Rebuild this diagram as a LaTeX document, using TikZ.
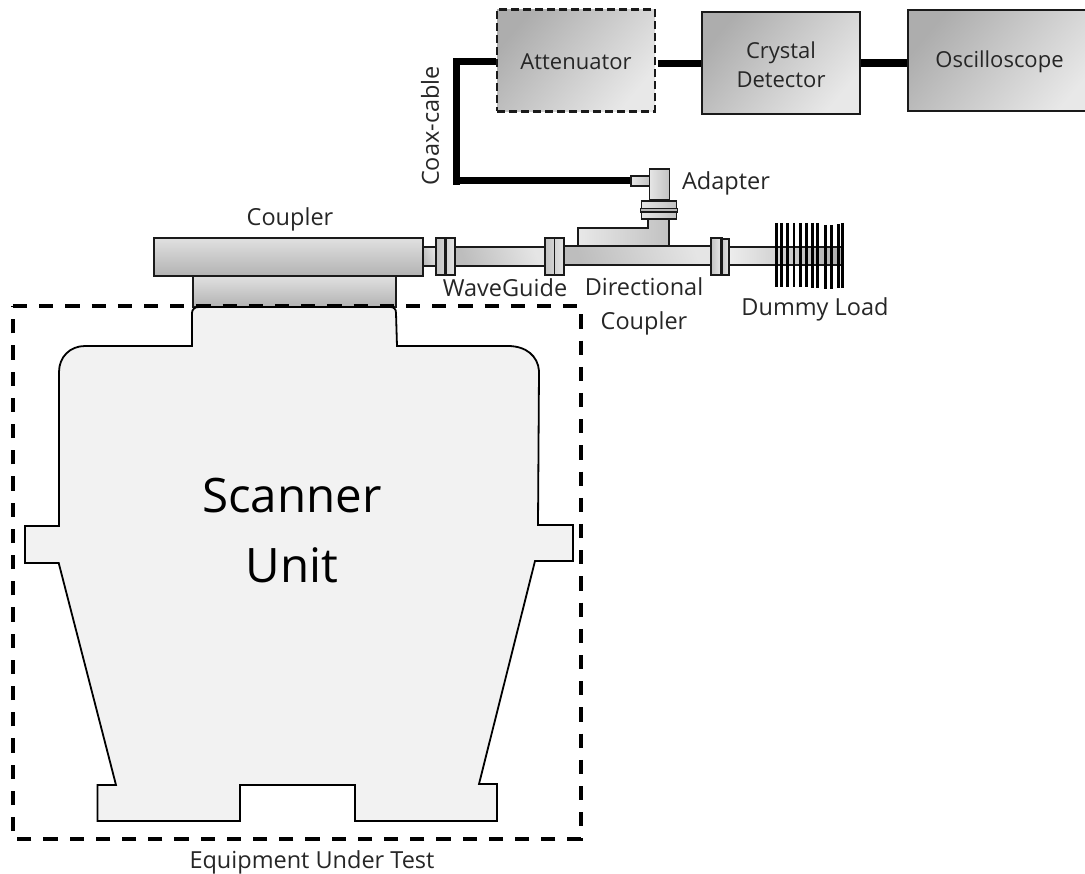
\documentclass[tikz,border=0pt]{standalone}
\usepackage{fontspec}
\setmainfont{Open Sans}
\usetikzlibrary{shadings}
\definecolor{ink}{HTML}{1A1A1A}
\definecolor{txt}{HTML}{262626}
\definecolor{bodyfill}{HTML}{F2F2F2}
\tikzset{
  x=1pt,y=-1pt,
  part/.style={draw=ink,line width=1.7pt,left color=black!32,right color=black!9,shading angle=50},
  pipe/.style={draw=ink,line width=1.7pt,left color=black!26,right color=black!10,shading angle=110},
  flange/.style={draw=ink,line width=1.7pt,left color=black!24,right color=black!10},
  boxlabel/.style={font=\fontsize{22}{29}\selectfont,text=txt,align=center,inner sep=0pt},
  lbl/.style={font=\fontsize{23.5}{34}\selectfont,text=txt,align=center,inner sep=0pt},
  cable/.style={line width=7pt,black},
  dummy/.style={line width=2.6pt,black},
  frame/.style={draw=black,line width=3.3pt,dash pattern=on 14.2pt off 12pt},
}
\begin{document}
\begin{tikzpicture}
\useasboundingbox (0,0) rectangle (1085,874);
% couplers
\node[draw=ink,line width=1.7pt,top color=black!12,bottom color=black!30,minimum width=203pt,minimum height=31pt,inner sep=0pt] (clow) at (294.5,291.5) {};
\node[draw=ink,line width=1.7pt,top color=black!12,bottom color=black!30,minimum width=269pt,minimum height=38pt,inner sep=0pt] (cup) at (288.5,257) {};
% scanner
\draw[draw=black,line width=1.8pt,fill=bodyfill]
  (199,307) -- (390,307) .. controls (394,307) and (396,309) .. (396,313)
  -- (397,346) -- (508,346) .. controls (526,346) and (538,356) .. (539,371)
  -- (538,525) -- (573,525) -- (573,561) -- (535,561) -- (479,784) -- (497,784) -- (497,821)
  -- (355,821) -- (355,785) -- (240,785) -- (240,821) -- (97.5,821) -- (97.5,785) -- (116,785)
  -- (58.7,563) -- (25,563) -- (25,526) -- (59,526) -- (59,372)
  .. controls (59,357) and (70,346) .. (85,346) -- (192,346) -- (192,313)
  .. controls (192,309) and (195,307) .. (199,307) -- cycle;
\node[inner sep=0pt,font=\fontsize{47.5}{70}\selectfont,align=center,text=black] (scan) at (292,531) {Scanner\\Unit};
\draw[frame] (13,306) -- (581,306) -- (581,839) -- (13,839) -- cycle;
% attach
\node[pipe,minimum width=13pt,minimum height=19pt,inner sep=0pt] (stub) at (429.5,256.5) {};
\node[pipe,minimum width=90pt,minimum height=19pt,inner sep=0pt] (wg) at (500,256.5) {};
\node[pipe,minimum width=149pt,minimum height=19pt,inner sep=0pt] (dc) at (638,255.5) {};
\node[draw=ink,line width=1.7pt,left color=black!7,right color=black!32,minimum width=114pt,minimum height=18pt,inner sep=0pt] (load) at (786,256) {};
% elbow
\path[draw=ink,line width=1.7pt,left color=black!9,right color=black!24]
  (578,246) -- (578,228) -- (648,228) -- (648,219) -- (669,219) -- (669,246) -- cycle;
% flanges
\node[flange,minimum width=19pt,minimum height=37pt,inner sep=0pt] (fa) at (445.5,256.5) {};
\draw[line width=3.5pt,ink] (fa.north) -- (fa.south);
\node[flange,minimum width=19pt,minimum height=37pt,inner sep=0pt] (fb) at (554.5,256.5) {};
\draw[line width=1.7pt,ink] (fb.north) -- (fb.south);
\node[flange,minimum width=10pt,minimum height=37pt,inner sep=0pt] (fc) at (716,256.5) {};
\node[flange,minimum width=8pt,minimum height=36pt,inner sep=0pt] (fd) at (725,257) {};
\draw[line width=2.5pt,ink] (fc.north east) -- (fc.south east);
% dummy load
\foreach \x/\a/\b in {776.7/223/287,781.3/223/287,787.7/223/287,794/223/287,800.3/223/287,806.7/223/287,812.7/223/288,817.7/223/288,825.3/225/289,831.3/225/289,838.3/224/288,842.7/223/288}
  \draw[dummy] (\x,\a) -- (\x,\b);
% adapter
\node[draw=ink,line width=1.7pt,left color=black!10,right color=black!24,minimum width=19pt,minimum height=10pt,inner sep=0pt] (adstub) at (640.5,181) {};
\node[flange,minimum width=20pt,minimum height=31pt,inner sep=0pt,left color=black!10,right color=black!24] (adbody) at (659.5,184.5) {};
\node[flange,minimum width=35pt,minimum height=18pt,inner sep=0pt,left color=black!10,right color=black!24] (adfl) at (659,210) {};
\draw[ink,line width=1.5pt,fill=black!28] (adfl.west |- 0,208.5) rectangle (adfl.east |- 0,212);
% boxes
\node[part,dash pattern=on 8pt off 4pt,line width=2.4pt,minimum width=158pt,minimum height=102pt,inner sep=0pt] (att) at (576,60.5) {};
\node[boxlabel] at (576,62) {Attenuator};
\node[part,minimum width=158pt,minimum height=102pt,inner sep=0pt] (cry) at (781,63) {};
\node[boxlabel] at (781,64.5) {Crystal\\Detector};
\node[part,minimum width=190pt,minimum height=101pt,inner sep=0pt] (osc) at (1003,60.5) {};
\node[boxlabel] at (999.5,62) {Oscilloscope};
% cables
\coordinate (c1) at (456.5,58);
\coordinate (c2) at (456.5,185);
\coordinate (c3) at (658,64);
\draw[cable] (att.west |- 0,61.5) -- (c1 |- 0,61.5);
\draw[cable] (c1) -- (c2);
\draw[cable] (c2 |- adstub.west) -- (adstub.west);
\draw[cable] (c3) -- (cry.west |- c3);
\draw[line width=8pt,black] (cry.east |- 0,63) -- (osc.west |- 0,63);
% labels
\node[lbl,rotate=90] at (430,126) {Coax-cable};
\node[lbl] at (726,183) {Adapter};
\node[lbl] at (290,219) {Coupler};
\node[lbl] at (505,288) {WaveGuide};
\node[lbl] at (644,306) {Directional\\Coupler};
\node[lbl] at (815,309) {Dummy Load};
\node[lbl] at (312,862) {Equipment Under Test};
\end{tikzpicture}
\end{document}
